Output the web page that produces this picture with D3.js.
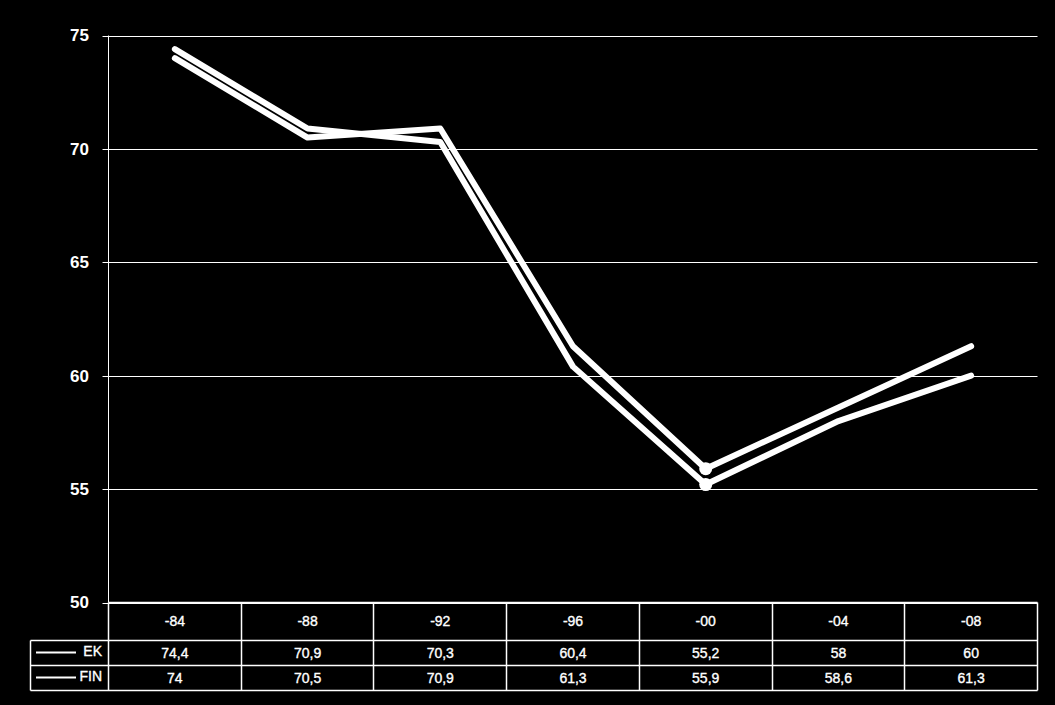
<!DOCTYPE html>
<html><head><meta charset="utf-8">
<script src="https://cdn.jsdelivr.net/npm/d3@7"></script>
<style>html,body{margin:0;padding:0;background:#000;}</style>
</head><body>
<svg id="c" width="1055" height="705"></svg>
<script>
const categories = ["-84","-88","-92","-96","-00","-04","-08"];
const ekValues = [74.4,70.9,70.3,60.4,55.2,58,60];
const finValues = [74,70.5,70.9,61.3,55.9,58.6,61.3];
const seriesNames = ["EK","FIN"];
const yTicks = [50,55,60,65,70,75];

const svg = d3.select("#c");
svg.append("rect").attr("width",1055).attr("height",705).attr("fill","#000");
const L=108.5, R=1037.5, T=35.5, B=602.5;
const x = d3.scaleBand().domain(categories).range([L,R]);
const y = d3.scaleLinear().domain([50,75]).range([B,T]);

// gridlines
svg.append("g").selectAll("line").data(yTicks).join("line")
  .attr("x1",L-6).attr("x2",R).attr("y1",d=>Math.round(y(d))+0.5).attr("y2",d=>Math.round(y(d))+0.5)
  .attr("stroke","#fff").attr("stroke-width",1);
// y axis
svg.append("line").attr("x1",L).attr("x2",L).attr("y1",T).attr("y2",B).attr("stroke","#fff");
svg.append("g").selectAll("text").data(yTicks).join("text")
  .attr("x",89).attr("y",d=>y(d)).attr("dy","0.35em").attr("text-anchor","end")
  .attr("fill","#fff").attr("font-family","Liberation Sans, Arial").attr("font-weight","bold").attr("font-size",17)
  .text(d=>d);

// lines
const line = d3.line().x((d,i)=>x(categories[i])+x.bandwidth()/2).y(d=>y(d));
[ekValues, finValues].forEach(vals=>{
  svg.append("path").attr("d",line(vals)).attr("fill","none").attr("stroke","#fff")
    .attr("stroke-width",6).attr("stroke-linejoin","round").attr("stroke-linecap","round");
  svg.append("circle").attr("cx",x("-00")+x.bandwidth()/2).attr("cy",y(vals[4])).attr("r",6.5).attr("fill","#fff");
});

// data table
const rowY = [602.5, 640.5, 665.5, 690.5];
const tbl = svg.append("g").attr("stroke","#fff").attr("stroke-width",1.5).attr("fill","none");
tbl.append("line").attr("x1",L).attr("x2",R).attr("y1",rowY[0]).attr("y2",rowY[0]);
tbl.append("line").attr("x1",30.5).attr("x2",R).attr("y1",rowY[1]).attr("y2",rowY[1]);
tbl.append("line").attr("x1",30.5).attr("x2",R).attr("y1",rowY[2]).attr("y2",rowY[2]);
tbl.append("line").attr("x1",30.5).attr("x2",R).attr("y1",rowY[3]).attr("y2",rowY[3]);
tbl.append("line").attr("x1",30.5).attr("x2",30.5).attr("y1",rowY[1]).attr("y2",rowY[3]);
const colX = categories.map(c=>x(c)).concat([R]);
tbl.selectAll("line.col").data(colX).join("line").attr("class","col")
  .attr("x1",d=>Math.round(d-0.5)+0.5).attr("x2",d=>Math.round(d-0.5)+0.5).attr("y1",rowY[0]).attr("y2",rowY[3]);

const txt = svg.append("g").attr("fill","#fff").attr("stroke","#fff").attr("stroke-width",0.35)
  .attr("font-family","Liberation Sans, Arial").attr("font-size",14).attr("text-anchor","middle");
txt.selectAll("text.h").data(categories).join("text").attr("class","h")
  .attr("x",d=>x(d)+x.bandwidth()/2).attr("y",(rowY[0]+rowY[1])/2).attr("dy","0.35em").text(d=>d);
[ekValues, finValues].forEach((vals,r)=>{
  txt.selectAll("text.r"+r).data(vals).join("text").attr("class","r"+r)
    .attr("x",(d,i)=>x(categories[i])+x.bandwidth()/2).attr("y",(rowY[r+1]+rowY[r+2])/2).attr("dy","0.35em")
    .text(d=>String(d).replace(".",","));
  svg.append("line").attr("x1",36).attr("x2",76).attr("y1",(rowY[r+1]+rowY[r+2])/2-0.5).attr("y2",(rowY[r+1]+rowY[r+2])/2-0.5)
    .attr("stroke","#fff").attr("stroke-width",2);
  svg.append("text").attr("x",102).attr("y",(rowY[r+1]+rowY[r+2])/2-2).attr("dy","0.35em").attr("text-anchor","end")
    .attr("fill","#fff").attr("stroke","#fff").attr("stroke-width",0.35)
    .attr("font-family","Liberation Sans, Arial").attr("font-size",14).text(seriesNames[r]);
});
</script>
</body></html>
